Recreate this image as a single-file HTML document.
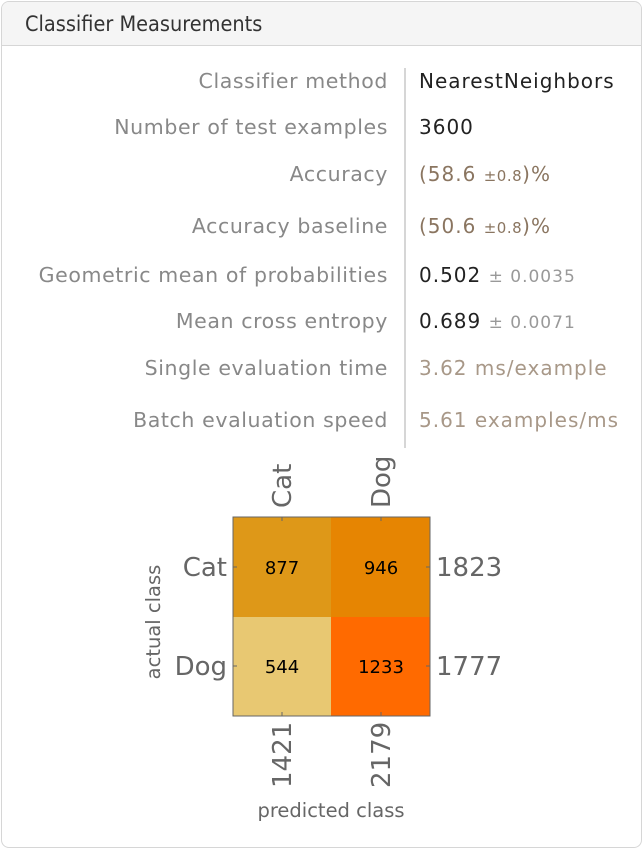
<!DOCTYPE html>
<html><head><meta charset="utf-8"><style>
body{margin:0;width:644px;height:850px;background:#fff;font-family:"DejaVu Sans","Liberation Sans",sans-serif;position:relative;overflow:hidden}
.box{position:absolute;left:1px;top:1px;width:639px;height:845px;border:1px solid #d6d6d6;border-radius:8px;overflow:hidden}
.hdr{position:absolute;left:0;top:0;width:100%;height:43px;background:#f5f5f5;border-bottom:1px solid #d6d6d6}
.title{position:absolute;left:23px;top:10px;font-size:21.5px;color:#333;font-family:"DejaVu Sans Condensed","DejaVu Sans",sans-serif}
.l{position:absolute;right:256px;font-size:20.5px;letter-spacing:0.6px;color:#888;white-space:nowrap}
.v{position:absolute;left:419px;font-size:20px;letter-spacing:1px;color:#222;white-space:nowrap}
.div{position:absolute;left:404px;top:68px;width:2px;height:380px;background:#d6d6d6}
.br{color:#8a7560}.sm{font-size:15px;letter-spacing:0.5px}.g{color:#999}.sg{font-size:17px}.t{color:#a89888}
</style></head><body>
<div class="box">
<div class="hdr"><div class="title">Classifier Measurements</div></div>
</div>
<div class="div"></div>
<div class="l" style="top:69px">Classifier method</div><div class="v" style="top:69px">NearestNeighbors</div>
<div class="l" style="top:115px">Number of test examples</div><div class="v" style="top:115px">3600</div>
<div class="l" style="top:162px">Accuracy</div><div class="v br" style="top:162px">(58.6 <span class="sm">±0.8</span>)%</div>
<div class="l" style="top:214px">Accuracy baseline</div><div class="v br" style="top:214px">(50.6 <span class="sm">±0.8</span>)%</div>
<div class="l" style="top:263px">Geometric mean of probabilities</div><div class="v" style="top:263px">0.502 <span class="sg g">± 0.0035</span></div>
<div class="l" style="top:309px">Mean cross entropy</div><div class="v" style="top:309px">0.689 <span class="sg g">± 0.0071</span></div>
<div class="l" style="top:356px">Single evaluation time</div><div class="v t" style="top:356px">3.62 ms/example</div>
<div class="l" style="top:408px">Batch evaluation speed</div><div class="v t" style="top:408px">5.61 examples/ms</div>
<svg style="position:absolute;left:0;top:0" width="644" height="850" font-family="DejaVu Sans, sans-serif">
<rect x="233" y="517" width="98" height="100" fill="#de9818"/>
<rect x="331" y="517" width="99" height="100" fill="#e68502"/>
<rect x="233" y="617" width="98" height="99" fill="#e8c872"/>
<rect x="331" y="617" width="99" height="99" fill="#ff6a00"/>
<rect x="233" y="517" width="197" height="199" fill="none" stroke="#666" stroke-width="1"/>
<g stroke="#666"><line x1="282" y1="517" x2="282" y2="521"/><line x1="381" y1="517" x2="381" y2="521"/><line x1="282" y1="716" x2="282" y2="712"/><line x1="381" y1="716" x2="381" y2="712"/><line x1="233" y1="567" x2="237" y2="567"/><line x1="233" y1="666" x2="237" y2="666"/><line x1="430" y1="567" x2="426" y2="567"/><line x1="430" y1="666" x2="426" y2="666"/></g>
<g font-size="18" text-anchor="middle" fill="#000"><text x="282" y="574">877</text><text x="381" y="574">946</text><text x="282" y="673">544</text><text x="381" y="673">1233</text></g>
<g font-size="26" fill="#666">
<text x="227" y="576" text-anchor="end">Cat</text><text x="227" y="675" text-anchor="end">Dog</text>
<text x="436" y="576">1823</text><text x="436" y="675">1777</text>
<text transform="translate(291,508) rotate(-90)">Cat</text><text transform="translate(390,508) rotate(-90)">Dog</text>
<text transform="translate(291,788) rotate(-90)">1421</text><text transform="translate(390,788) rotate(-90)">2179</text>
</g>
<g font-size="19.5" fill="#666" text-anchor="middle"><text x="331" y="817">predicted class</text><text transform="translate(160,622) rotate(-90)">actual class</text></g>
</svg>
</body></html>
